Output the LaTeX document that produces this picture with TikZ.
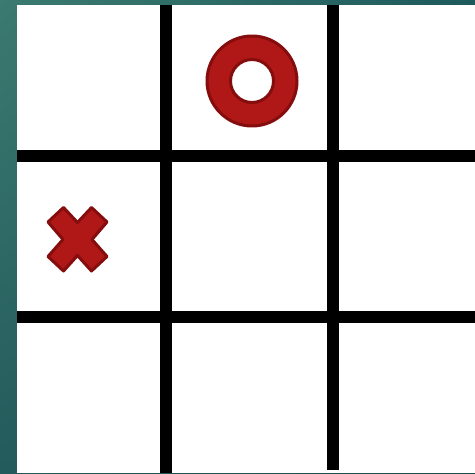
\documentclass[tikz,border=0pt]{standalone}
\usetikzlibrary{positioning, shadings}
\definecolor{tealA}{HTML}{3B7A70}
\definecolor{tealB}{HTML}{1E5A5C}
\definecolor{tealC}{HTML}{235A5C}
\definecolor{tealD}{HTML}{1B4C52}
\definecolor{markfill}{HTML}{B01717}
\definecolor{markline}{HTML}{850D0D}

\begin{document}
\begin{tikzpicture}[x=0.02cm, y=-0.02cm,
                gridline/.style={line width=0.24cm, black},
                piece/.style={fill=markfill, draw=markline, line width=0.06cm, line join=round}
            ]
                \useasboundingbox (0,0) rectangle (475,473);
                \shade[upper left=tealA, upper right=tealB, lower left=tealC, lower right=tealD] (0,0) rectangle (475,473);
                \fill[white] (17,5) rectangle (475,473);

                % board
                \draw[gridline] (166,5) -- (166,473);
                \draw[gridline] (333,5) -- (333,470);
                \draw[gridline] (17,156) -- (475,156);
                \draw[gridline] (17,316.5) -- (475,316.5);

                % O
                \coordinate (ocenter) at (252,81);
                \filldraw[piece, even odd rule] (ocenter) circle (45) (ocenter) circle (21.5);

                % X
                \filldraw[piece] (48,222) -- (63.5,207.5) -- (77.5,222.5) -- (91.5,207.5) -- (107,222)
                    -- (92,239.5) -- (107,256.5) -- (91.5,271) -- (77.5,255.5) -- (63.5,271)
                    -- (48,256.5) -- (63,239.5) -- cycle;
            \end{tikzpicture}
\end{document}
